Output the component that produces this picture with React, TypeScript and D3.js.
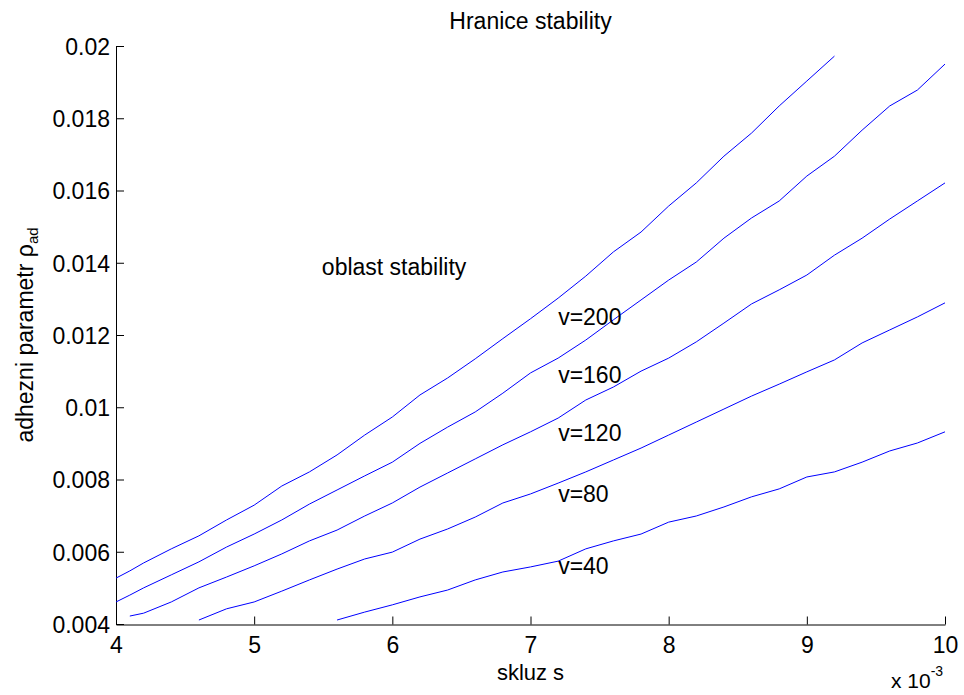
import * as React from 'react';
import * as d3 from 'd3';

// skluz s (x 10^-3)
const slip = [4.0, 4.1, 4.2, 4.4, 4.6, 4.8, 5.0, 5.2, 5.4, 5.6, 5.8, 6.0, 6.2, 6.4, 6.6, 6.8,
  7.0, 7.2, 7.4, 7.6, 7.8, 8.0, 8.2, 8.4, 8.6, 8.8, 9.0, 9.2, 9.4, 9.6, 9.8, 10.0];

// adhezni parametr for each speed
const v200 = [0.00527, 0.00547, 0.00569, 0.00608, 0.00644, 0.00688, 0.00729, 0.00782, 0.00821, 0.00868,
  0.00923, 0.00973, 0.01034, 0.01081, 0.01134, 0.0119, 0.01245, 0.01302, 0.01363, 0.0143, 0.01485,
  0.01557, 0.01621, 0.01695, 0.01759, 0.01834, 0.01903, 0.01972, null, null, null, null];
const v160 = [0.00461, 0.0048, 0.005, 0.00536, 0.00572, 0.00613, 0.00649, 0.00688, 0.00732, 0.00771,
  0.0081, 0.00848, 0.009, 0.00945, 0.00987, 0.01039, 0.01095, 0.01136, 0.01186, 0.01242, 0.01297,
  0.01352, 0.01402, 0.01468, 0.01524, 0.01571, 0.0164, 0.01695, 0.01767, 0.01834, 0.01878, 0.0195];
const v120 = [null, 0.00422, 0.0043, 0.00461, 0.005, 0.0053, 0.00561, 0.00594, 0.0063, 0.0066,
  0.00699, 0.00735, 0.00779, 0.00818, 0.00857, 0.00896, 0.00932, 0.0097, 0.0102, 0.01056, 0.011,
  0.01136, 0.01181, 0.01233, 0.01286, 0.01325, 0.01366, 0.01421, 0.01468, 0.01521, 0.01571, 0.01621];
const v80 = [null, null, null, null, 0.00411, 0.00442, 0.00461, 0.00491, 0.00522, 0.00552,
  0.0058, 0.00599, 0.00635, 0.00663, 0.00696, 0.00735, 0.0076, 0.0079, 0.00821, 0.00854, 0.00887,
  0.00923, 0.00959, 0.00995, 0.01031, 0.01064, 0.01098, 0.01131, 0.01178, 0.01214, 0.0125, 0.01289];
const v40 = [null, null, null, null, null, null, null, null, null, 0.00411,
  0.00433, 0.00453, 0.00475, 0.00494, 0.00522, 0.00544, 0.00558, 0.00574, 0.00608, 0.0063, 0.00649,
  0.00682, 0.00699, 0.00724, 0.00752, 0.00774, 0.00807, 0.00821, 0.00848, 0.00879, 0.00901, 0.00932];

const speedLabels = ['v=200', 'v=160', 'v=120', 'v=80', 'v=40'];
const labelY = [0.0125, 0.0109, 0.0093, 0.0076, 0.0056];
const labelX = 7.2;

const xTicks = [4, 5, 6, 7, 8, 9, 10];
const yTicks = [0.004, 0.006, 0.008, 0.01, 0.012, 0.014, 0.016, 0.018, 0.02];

const FONT = '"Liberation Sans", Arial, sans-serif';

const drawChart = (node: SVGSVGElement) => {
  const svg = d3.select(node);
  svg.selectAll('*').remove();

  const left = 116;
  const right = 945;
  const top = 46;
  const bottom = 624;

  const x = d3.scaleLinear().domain([4, 10]).range([left, right]);
  const y = d3.scaleLinear().domain([0.004, 0.02]).range([bottom, top]);

  // axes, ticks pointing inward like matlab
  const xAxis = d3.axisBottom(x).tickValues(xTicks).tickSizeInner(-8).tickSizeOuter(0)
    .tickPadding(14).tickFormat(d3.format('d') as any);
  const yAxis = d3.axisLeft(y).tickValues(yTicks).tickSizeInner(-8).tickSizeOuter(0)
    .tickPadding(14).tickFormat(d3.format('~g') as any);

  const gx = svg.append('g')
    .attr('transform', `translate(0, ${bottom + 0.5})`)
    .call(xAxis);
  const gy = svg.append('g')
    .attr('transform', `translate(${left}, 0)`)
    .call(yAxis);

  [gx, gy].forEach((g) => {
    g.selectAll('.domain').attr('stroke', '#000');
    g.selectAll('.tick line').attr('stroke', '#000');
    g.selectAll('text')
      .attr('fill', '#000')
      .style('font-family', FONT)
      .style('font-size', '23px');
  });
  gx.selectAll('text').attr('dy', '0.71em').attr('y', 12);
  gy.selectAll('text').attr('x', -6).attr('dy', '0.36em');

  // curves
  const line = d3.line<any>()
    .defined(d => d[1] != null)
    .x(d => x(d[0]))
    .y(d => y(d[1]));

  [v200, v160, v120, v80, v40].forEach((series) => {
    svg.append('path')
      .datum(slip.map((s, i) => [s, series[i]]))
      .attr('fill', 'none')
      .attr('stroke', '#0000ff')
      .attr('stroke-width', 1)
      .attr('d', line);
  });

  // curve labels
  speedLabels.forEach((lab, i) => {
    svg.append('text')
      .attr('x', x(labelX))
      .attr('y', y(labelY[i]))
      .attr('dy', '0.36em')
      .style('font-family', FONT)
      .style('font-size', '23px')
      .text(lab);
  });

  svg.append('text')
    .attr('x', x(5.49))
    .attr('y', y(0.0139))
    .attr('dy', '0.36em')
    .style('font-family', FONT)
    .style('font-size', '23px')
    .text('oblast stability');

  // title
  svg.append('text')
    .attr('x', (left + right) / 2)
    .attr('y', 29)
    .attr('text-anchor', 'middle')
    .style('font-family', FONT)
    .style('font-size', '23px')
    .text('Hranice stability');

  // x label
  svg.append('text')
    .attr('x', (left + right) / 2)
    .attr('y', 680)
    .attr('text-anchor', 'middle')
    .style('font-family', FONT)
    .style('font-size', '22px')
    .text('skluz s');

  // exponent
  const expo = svg.append('text')
    .attr('x', 891)
    .attr('y', 688)
    .style('font-family', FONT)
    .style('font-size', '21px');
  expo.append('tspan').text('x 10');
  expo.append('tspan').attr('dy', -12).style('font-size', '14px').text('-3');

  // y label
  const yl = svg.append('text')
    .attr('transform', `translate(33, ${(top + bottom) / 2}) rotate(-90)`)
    .attr('text-anchor', 'middle')
    .style('font-family', FONT)
    .style('font-size', '23px');
  yl.append('tspan').text('adhezni parametr \u03c1');
  yl.append('tspan').attr('dy', 5).style('font-size', '15px').text('ad');
};

const App = () => {
  const ref = React.useRef<SVGSVGElement>(null);

  React.useEffect(() => {
    if (ref.current) drawChart(ref.current);
  }, []);

  return (
    <svg
      ref={ref}
      width={964}
      height={695}
      style={{ position: 'absolute', left: 0, top: 0, background: '#fff' }}
    />
  );
};

export default App;
